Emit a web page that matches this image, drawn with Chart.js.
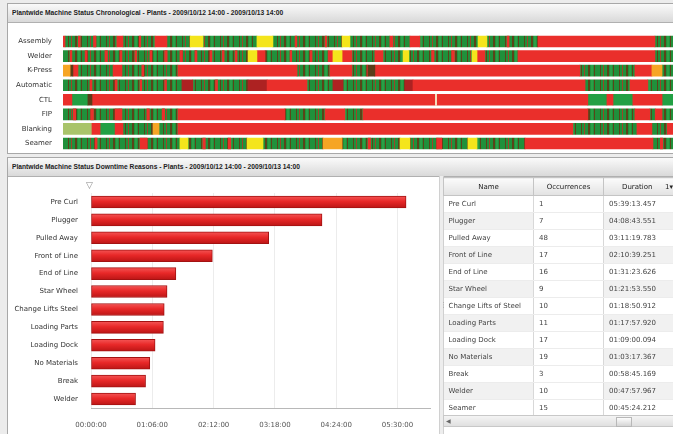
<!DOCTYPE html>
<html>
<head>
<meta charset="utf-8">
<script src="https://cdn.jsdelivr.net/npm/chart.js@4.4.1/dist/chart.umd.min.js"></script>
<style>
body{margin:0;width:673px;height:434px;overflow:hidden;background:#ececec;position:relative;font-family:"DejaVu Sans",sans-serif;color:#333}
.panel{position:absolute;left:7px;width:670px;background:#fff;border:1px solid #a8a8a8;box-sizing:border-box}
.title{position:absolute;left:0;right:0;top:0;height:18px;background:linear-gradient(#fafafa,#d9d9d9);border-bottom:1px solid #b0b0b0;font:bold 7.5px "Liberation Sans Narrow",sans-serif;line-height:18px;padding-left:4px;color:#222;white-space:nowrap}
.title span{display:inline-block;transform:scaleX(0.89);transform-origin:left center}
canvas{position:absolute}
#tbl{position:absolute;left:443px;top:177px;width:232px;border-collapse:collapse;font-size:7px;table-layout:fixed}
#tbl th{height:17px;padding:0;font-weight:normal;background:linear-gradient(#fbfbfb,#e2e2e2);border:1px solid #c4c4c4;color:#222}
#tbl td{height:16px;padding:0 0 0 5px;border-right:1px solid #d8d8d8;border-bottom:1px solid #ececec;white-space:nowrap;overflow:hidden;color:#444}
#tbl tr:nth-child(odd) td{background:#f1f1f1}
#tbl td.occ{background:#fff !important}
.split{position:absolute;left:439px;top:176px;width:3px;height:258px;background:#ededed;border-left:1px solid #d0d0d0;border-right:1px solid #d0d0d0}
.scroll{position:absolute;left:443px;top:415px;width:232px;height:12px;background:linear-gradient(#f4f4f4,#e0e0e0);border:1px solid #c8c8c8;box-sizing:border-box}
</style>
</head>
<body>
<div class="panel" style="top:3px;height:151px"><div class="title"><span>Plantwide Machine Status Chronological - Plants - 2009/10/12 14:00 - 2009/10/13 14:00</span></div></div>
<div class="panel" style="top:157px;height:280px"><div class="title"><span>Plantwide Machine Status Downtime Reasons - Plants - 2009/10/12 14:00 - 2009/10/13 14:00</span></div></div>
<canvas id="timeline" width="665" height="131" style="left:8px;top:27px"></canvas>
<canvas id="reasons" width="432" height="256" style="left:8px;top:178px"></canvas>
<div style="position:absolute;left:86px;top:180px;font-size:9px;color:#888">&#9661;</div>
<div class="split"><div style="position:absolute;top:125px;left:0;font-size:7px;color:#999">&#8942;</div></div>
<table id="tbl"></table>
<div class="scroll">
  <div style="position:absolute;left:2px;top:0;font-size:6px;line-height:10px;color:#666">&#9664;</div>
  <div style="position:absolute;left:172px;top:1px;width:14px;height:8px;background:linear-gradient(#fdfdfd,#d4d4d4);border:1px solid #b8b8b8"></div>
</div>
<script>
// hours since 2009/10/12 14:00, [start, end, status]
const machines = ['Assembly', 'Welder', 'K-Press', 'Automatic', 'CTL', 'FIP', 'Blanking', 'Seamer'];

const assembly = [[0,0.08,'R'],[0.08,2.12,'G'],[0.6,0.68,'R'],[1.2,1.3,'R'],[2.12,2.36,'R'],[2.36,3.62,'G'],[3.0,3.06,'R'],
  [3.62,4.09,'R'],[4.09,5.0,'G'],[5.0,5.51,'Y'],[5.51,7.63,'G'],[7.63,8.26,'Y'],[8.26,10.98,'G'],[9.13,9.2,'R'],[10.31,10.38,'R'],
  [10.98,11.29,'Y'],[11.29,12.86,'G'],[12.86,12.98,'R'],[12.98,13.65,'G'],[13.65,14.04,'R'],[14.04,16.33,'G'],[16.33,16.68,'Y'],
  [16.68,18.69,'G'],[17.47,17.55,'R'],[18.69,23.29,'R'],[23.29,24,'G']];
const welder = [[0,7.28,'G'],[0.28,0.35,'R'],[0.87,0.95,'R'],[1.65,1.75,'R'],[2.24,2.32,'R'],[2.83,2.9,'R'],[3.42,3.5,'R'],
  [4.0,4.1,'R'],[4.6,4.7,'R'],[5.19,5.27,'R'],[5.78,5.86,'R'],[6.26,6.34,'R'],[6.77,6.85,'R'],[7.28,7.63,'Y'],[7.63,7.95,'R'],
  [7.95,10.43,'G'],[8.93,9.0,'R'],[9.72,9.8,'R'],[10.43,10.62,'R'],[10.62,10.98,'Y'],[10.98,11.37,'R'],[11.37,12.27,'G'],
  [12.27,12.59,'R'],[12.59,13.38,'G'],[13.38,13.61,'Y'],[13.61,16.09,'G'],[14.5,14.6,'R'],[15.3,15.4,'R'],[16.09,16.29,'Y'],
  [16.29,16.6,'R'],[16.6,17.9,'G'],[17.9,23.29,'R'],[23.29,24,'G']];
const kpress = [[0,0.28,'O'],[0.28,0.39,'D'],[0.39,0.59,'R'],[0.59,1.97,'G'],[1.97,2.32,'R'],[2.32,4.52,'G'],[3.1,3.18,'R'],
  [4.52,9.21,'R'],[9.21,10.5,'G'],[10.5,11.37,'R'],[11.37,11.96,'G'],[11.96,12.0,'R'],[12.0,12.27,'D'],[12.27,20.34,'R'],
  [20.34,22.5,'G'],[22.5,23.17,'R'],[23.17,23.57,'O'],[23.57,24,'G']];
const automatic = [[0,4.68,'G'],[1.06,1.14,'R'],[2.05,2.13,'R'],[3.03,3.1,'R'],[4.0,4.07,'R'],[4.68,5.11,'K'],[5.11,7.28,'G'],
  [6.0,6.08,'R'],[7.28,8.03,'K'],[8.03,9.6,'R'],[9.6,10.62,'G'],[10.62,11.02,'K'],[11.02,13.45,'G'],[13.45,13.77,'K'],
  [13.77,20.54,'R'],[20.54,22.31,'G'],[22.31,23.01,'R'],[23.01,24,'G']];
const ctl = [[0,0.35,'R'],[0.35,0.98,'S'],[0.98,1.14,'D'],[1.14,14.65,'R'],[14.65,14.7,'W'],[14.7,20.65,'R'],[20.65,21.4,'S'],
  [21.4,21.64,'R'],[21.64,22.42,'S'],[22.42,23.57,'R'],[23.57,24,'S']];
const fip = [[0,4.52,'G'],[0.4,0.5,'R'],[1.1,1.2,'R'],[2.05,2.32,'R'],[3.3,3.4,'R'],[3.9,4.0,'R'],[4.52,8.73,'R'],
  [8.73,10.31,'G'],[10.31,11.09,'R'],[11.09,11.8,'G'],[11.8,20.65,'R'],[20.65,22.5,'G'],[22.5,23.09,'R'],[23.09,23.3,'G'],
  [23.3,23.57,'R'],[23.57,24,'G']];
const blanking = [[0,1.14,'L'],[1.14,1.46,'R'],[1.46,2.05,'S'],[2.05,2.36,'R'],[2.36,3.54,'G'],[3.54,3.78,'O'],[3.78,4.52,'G'],
  [4.52,20.06,'R'],[20.06,22.58,'G'],[22.58,23.17,'R'],[23.17,23.77,'G'],[23.77,24,'R']];
const seamer = [[0,4.6,'G'],[1.26,1.34,'R'],[3.03,3.3,'R'],[4.6,4.92,'Y'],[4.92,7.24,'G'],[5.5,5.6,'R'],[6.5,6.6,'R'],
  [7.24,7.87,'Y'],[7.87,10.23,'G'],[10.23,10.98,'O'],[10.98,13.26,'G'],[12.0,12.1,'R'],[13.26,13.65,'Y'],[13.65,15.93,'G'],
  [14.7,14.9,'R'],[15.93,16.29,'Y'],[16.29,18.18,'G'],[18.18,23.21,'R'],[23.21,24,'G'],[23.5,23.6,'R']];
const timelineRows = [assembly, welder, kpress, automatic, ctl, fip, blanking, seamer];

// downtime reasons
const reasonNames = ['Pre Curl', 'Plugger', 'Pulled Away', 'Front of Line', 'End of Line', 'Star Wheel', 'Change Lifts Steel',
  'Loading Parts', 'Loading Dock', 'No Materials', 'Break', 'Welder'];
const tableNames = ['Pre Curl', 'Plugger', 'Pulled Away', 'Front of Line', 'End of Line', 'Star Wheel', 'Change Lifts of Steel',
  'Loading Parts', 'Loading Dock', 'No Materials', 'Break', 'Welder', 'Seamer'];
const occurrences = [1, 7, 48, 17, 16, 9, 10, 11, 17, 19, 3, 10, 15];
const durations = ['05:39:13.457', '04:08:43.551', '03:11:19.783', '02:10:39.251', '01:31:23.626', '01:21:53.550',
  '01:18:50.912', '01:17:57.920', '01:09:00.094', '01:03:17.367', '00:58:45.169', '00:47:57.967', '00:45:24.212'];
const xTicks = [0, 66, 132, 198, 264, 330]; // minutes

function toMinutes(s) {
  const p = s.split(':');
  return (+p[0]) * 60 + (+p[1]) + (+p[2]) / 60;
}
function fmt(m) {
  const h = Math.floor(m / 60), mm = m % 60;
  return String(h).padStart(2, '0') + ':' + String(mm).padStart(2, '0') + ':00';
}

// green with the dark stripes seen in the running state
function stripePattern() {
  const c = document.createElement('canvas');
  c.width = 19; c.height = 12;
  const g = c.getContext('2d');
  g.fillStyle = '#20903b'; g.fillRect(0, 0, 19, 12);
  g.fillStyle = '#5b4419'; g.fillRect(3, 0, 1, 12); g.fillRect(10, 0, 2, 12); g.fillRect(16, 0, 1, 12);
  g.fillStyle = '#9c4428'; g.fillRect(6, 0, 1, 12);
  g.fillStyle = '#2aa046'; g.fillRect(13, 0, 2, 12);
  return g.createPattern(c, 'repeat');
}

const statusStyle = {
  G: { color: stripePattern(), order: 9 },
  S: { color: '#22a044', order: 8 },
  L: { color: '#a9c46a', order: 8 },
  R: { color: '#ea2f2b', order: 2 },
  K: { color: '#ad2222', order: 2 },
  Y: { color: '#f4e51c', order: 1 },
  O: { color: '#f6a524', order: 1 },
  D: { color: '#5b3d18', order: 1 },
  W: { color: '#f6e0c0', order: 0 }
};

const timelineSets = Object.keys(statusStyle).map(code => {
  const data = [];
  timelineRows.forEach((row, i) => {
    row.forEach(seg => { if (seg[2] === code) data.push({ x: [seg[0], seg[1]], y: machines[i] }); });
  });
  return {
    data: data,
    backgroundColor: statusStyle[code].color,
    order: statusStyle[code].order,
    grouped: false,
    barThickness: 11,
    borderWidth: 0
  };
});

new Chart(document.getElementById('timeline'), {
  type: 'bar',
  data: { labels: machines, datasets: timelineSets },
  options: {
    indexAxis: 'y',
    responsive: false,
    animation: false,
    layout: { padding: { top: 5, bottom: 3, left: 0, right: 0 } },
    plugins: { legend: { display: false }, tooltip: { enabled: false } },
    scales: {
      x: { type: 'linear', min: 0, max: 24, display: false },
      y: {
        grid: { display: false },
        border: { display: false },
        ticks: { color: '#333', padding: 3, font: { family: 'DejaVu Sans', size: 7 } },
        afterFit(s) { s.width = 55; }
      }
    }
  }
});

// bar chart
const barValues = reasonNames.map((n, i) => toMinutes(durations[i]));

new Chart(document.getElementById('reasons'), {
  type: 'bar',
  data: {
    labels: reasonNames,
    datasets: [{
      data: barValues,
      barThickness: 12,
      borderWidth: 1,
      borderColor: '#a31212',
      borderSkipped: false,
      backgroundColor(c) {
        const ys = c.chart.scales.y;
        if (!ys || !c.chart.chartArea) return '#e42626';
        const y = ys.getPixelForValue(c.dataIndex);
        const gr = c.chart.ctx.createLinearGradient(0, y - 6, 0, y + 6);
        gr.addColorStop(0, '#f45656');
        gr.addColorStop(0.45, '#e82828');
        gr.addColorStop(1, '#bb1515');
        return gr;
      }
    }]
  },
  options: {
    indexAxis: 'y',
    responsive: false,
    animation: false,
    layout: { padding: { top: 15, right: 10, left: 0, bottom: 0 } },
    plugins: { legend: { display: false }, tooltip: { enabled: false } },
    scales: {
      x: {
        min: 0, max: 365,
        afterBuildTicks(s) { s.ticks = xTicks.map(v => ({ value: v })); },
        ticks: { callback: v => fmt(v), color: '#555', padding: 13, maxRotation: 0, font: { family: 'DejaVu Sans', size: 7 } },
        grid: { color: '#ececec', drawTicks: false },
        border: { color: '#b8b8b8' },
        afterFit(s) { s.height = 26; }
      },
      y: {
        grid: { display: false },
        border: { display: false },
        ticks: { color: '#333', padding: 5, font: { family: 'DejaVu Sans', size: 7 } },
        afterFit(s) { s.width = 83; }
      }
    }
  }
});

// table
let html = '<colgroup><col style="width:90px"><col style="width:70px"><col style="width:72px"></colgroup>' +
  '<tr><th>Name</th><th>Occurrences</th><th style="text-align:left;padding-left:18px">Duration<span style="float:right;padding-right:2px">1&#9662;</span></th></tr>';
tableNames.forEach((n, i) => {
  html += '<tr><td>' + n + '</td><td class="occ">' + occurrences[i] + '</td><td>' + durations[i] + '</td></tr>';
});
document.getElementById('tbl').innerHTML = html;
</script>
</body>
</html>
